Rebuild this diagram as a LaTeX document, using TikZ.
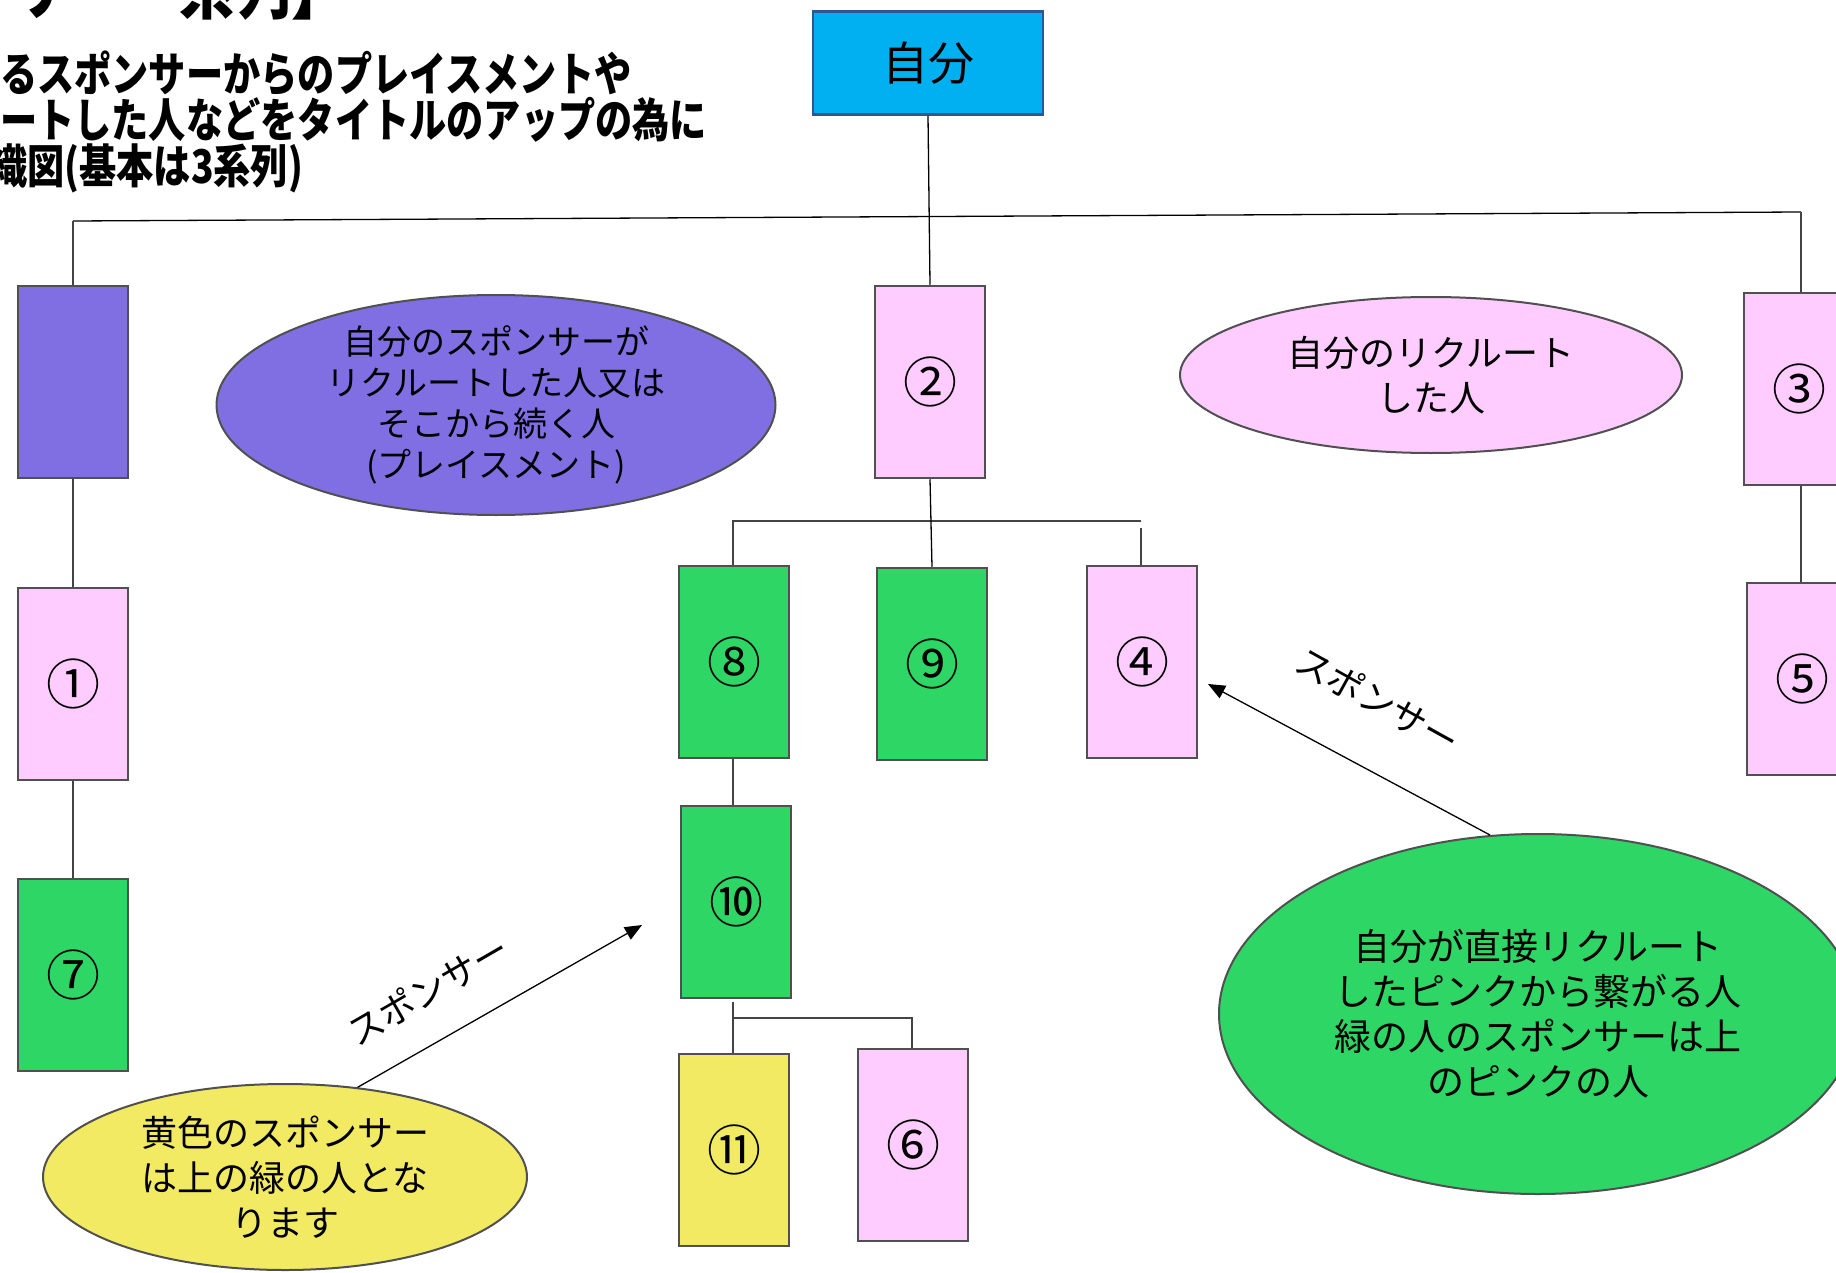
\documentclass[tikz,border=0pt]{standalone}
\usepackage{fontspec}
\setmainfont{Noto Sans CJK JP}
\newfontfamily\titlefont[FakeStretch=0.8]{Noto Sans CJK JP}
\usetikzlibrary{shapes.geometric,arrows.meta}
\definecolor{meblue}{RGB}{0,176,240}
\definecolor{meborder}{RGB}{47,85,151}
\definecolor{pinkf}{RGB}{255,204,255}
\definecolor{greenf}{RGB}{45,214,101}
\definecolor{yellowf}{RGB}{242,234,98}
\definecolor{purplef}{RGB}{128,111,226}
\definecolor{edge}{RGB}{80,80,80}
\begin{document}
\begin{tikzpicture}[x=1pt,y=-1pt,
  person/.style={draw=edge,line width=2.5pt,minimum width=110pt,minimum height=192pt,inner sep=0pt,font=\fontsize{54}{54}\selectfont},
  bubble/.style={ellipse,draw=edge,line width=2pt,inner sep=0pt},
  wire/.style={draw=edge!85!black,line width=2pt},
  fineline/.style={draw=black,line width=1.3pt},
  note/.style={align=center,font=\fontsize{36}{45}\selectfont},
  pointer/.style={draw=black,line width=1.3pt,-{Triangle[length=17pt,width=14pt]}},
  headline/.style={anchor=base west,inner sep=0pt,font=\titlefont\bfseries\fontsize{46.5}{46}\selectfont}
]
\useasboundingbox (0,0) rectangle (1836,1273);
\clip (0,0) rectangle (1836,1273);
\fill[white] (0,0) rectangle (1836,1273);

% title fragments
\node[anchor=base west,inner sep=0pt,font=\titlefont\bfseries\fontsize{70}{70}\selectfont] (title) at (11,14) {サー　系列】};
\node[headline] (h1) at (0,92) {るスポンサーからのプレイスメントや};
\node[headline] (h2) at (0,138) {ートした人などをタイトルのアップの為に};
\node[headline] (h3) at (-10,184) {織図(基本は3系列)};

% ellipses
\node[bubble,fill=purplef,minimum width=559pt,minimum height=220pt] (e1) at (496,405) {};
\node[note,font=\fontsize{34}{41}\selectfont] (t1) at (e1) {自分のスポンサーが\\リクルートした人又は\\そこから続く人\\(プレイスメント)};
\node[bubble,fill=pinkf,minimum width=502pt,minimum height=156pt] (e2) at (1431,375) {};
\node[note] (t2) at (e2) {自分のリクルート\\した人};
\node[bubble,fill=greenf,minimum width=638pt,minimum height=360pt] (e3) at (1538,1014) {};
\node[note,font=\fontsize{37}{45}\selectfont] (t3) at (e3) {自分が直接リクルート\\したピンクから繋がる人\\緑の人のスポンサーは上\\のピンクの人};
\node[bubble,fill=yellowf,minimum width=484pt,minimum height=186pt] (e4) at (285,1177) {};
\node[note] (t4) at (e4) {黄色のスポンサー\\は上の緑の人とな\\ります};

% top node
\node[draw=meborder,line width=2.5pt,fill=meblue,minimum width=230pt,minimum height=103pt,font=\fontsize{46}{46}\selectfont] (me) at (928,63) {自分};

% boxes
\node[person,fill=purplef] (p0) at (73,382) {};
\node[person,fill=pinkf] (n1) at (73,684) {①};
\node[person,fill=greenf] (n7) at (73,975) {⑦};
\node[person,fill=pinkf] (n2) at (930,382) {②};
\node[person,fill=pinkf] (n3) at (1799,389) {③};
\node[person,fill=pinkf] (n5) at (1802,679) {⑤};
\node[person,fill=greenf] (n8) at (734,662) {⑧};
\node[person,fill=greenf] (n9) at (932,664) {⑨};
\node[person,fill=pinkf] (n4) at (1142,662) {④};
\node[person,fill=greenf] (n10) at (736,902) {⑩};
\node[person,fill=yellowf] (n11) at (734,1150) {⑪};
\node[person,fill=pinkf] (n6) at (913,1145) {⑥};

% connectors
\coordinate (L) at (73,221);
\coordinate (R) at (1801,212);
\draw[fineline] (L) -- (R);
\draw[wire] (p0.north) -- (L);
\draw[wire] (R) -- (1801,0 |- n3.north);
\draw[fineline] (me.south) -- (n2.north);
\draw[wire] (p0.south) -- (n1.north);
\draw[wire] (n1.south) -- (n7.north);
\draw[wire] (1801,0 |- n3.south) -- (1801,0 |- n5.north);

\coordinate (A) at (733,521);
\coordinate (B) at (1141,521);
\coordinate (B2) at (1141,528);
\draw[wire] (n8.north -| A) -- (A) -- (B);
\draw[wire] (B2) -- (B2 |- n4.north);
\draw[fineline] (n2.south) -- (n9.north);
\draw[wire] (n8.south -| A) -- (A |- n10.north);

\coordinate (C) at (733,1018);
\coordinate (D) at (912,1018);
\draw[wire] (733,1002) -- (C |- n11.north);
\draw[wire] (C) -- (D) -- (D |- n6.north);

% pointers
\coordinate (tip1) at (1208,684);
\coordinate (tip2) at (642,925);
\draw[pointer] (e3.105) -- (tip1);
\draw[pointer] (e4.51) -- (tip2);
\node[rotate=-29,font=\fontsize{36}{36}\selectfont] (lab1) at (1378,700) {スポンサー};
\node[rotate=30,font=\fontsize{36}{36}\selectfont] (lab2) at (428,990) {スポンサー};
\end{tikzpicture}
\end{document}
